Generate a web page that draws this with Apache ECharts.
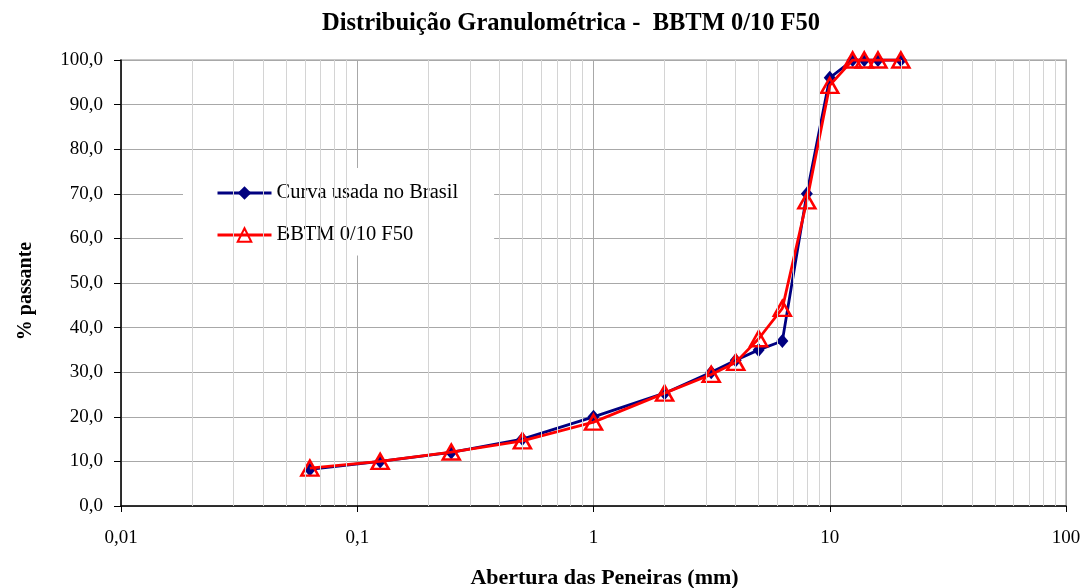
<!DOCTYPE html>
<html><head><meta charset="utf-8">
<script src="https://cdn.jsdelivr.net/npm/echarts@6/dist/echarts.min.js"></script>
<style>html,body{margin:0;padding:0;background:#fff}#c{width:1087px;height:588px}</style>
</head><body><div id="c"></div>
<script>
const sieves = [0.063, 0.125, 0.25, 0.5, 1, 2, 3.15, 4, 5, 6.3, 8, 10, 12.5, 14, 16, 20];
const curvaBrasil = [8.2, 10, 12, 15, 20, 25.3, 30, 32.7, 35, 37, 70, 96, 100, 100, 100, 100];
const bbtm = [8.5, 10, 12.1, 14.6, 18.8, 25.3, 29.5, 32.2, 37.5, 44.3, 68.4, 94.3, 100, 100, 100, 100];
const xTickLabels = ['0,01', '0,1', '1', '10', '100'];
const decades = [0.01, 0.1, 1, 10];
const minorMultipliers = [2, 3, 4, 5, 6, 7, 8, 9];

const FONT = "'Liberation Serif','Times New Roman',serif";
const minorLines = [];
decades.forEach(d => minorMultipliers.forEach(m => minorLines.push({xAxis: +(d * m).toPrecision(3)})));

const chart = echarts.init(document.getElementById('c'));
chart.setOption({
  animation: false,
  backgroundColor: '#fff',
  title: {
    text: 'Distribuição Granulométrica -  BBTM 0/10 F50',
    left: 566, top: 6, textAlign: 'center',
    textStyle: {fontFamily: FONT, fontSize: 24.5, fontWeight: 'bold', color: '#000'}
  },
  grid: {left: 121, right: 21, top: 60, bottom: 82, show: true, borderColor: '#c8c8c8', borderWidth: 2,
    backgroundColor: 'transparent', containLabel: false, outerBoundsMode: 'none'},
  legend: {
    orient: 'vertical', left: 183, top: 168,
    backgroundColor: '#fff',
    padding: [14.5, 36, 10, 33],
    itemWidth: 54, itemHeight: 17, itemGap: 21,
    lineStyle: {width: 3},
    textStyle: {fontFamily: FONT, fontSize: 20.5, color: '#000'},
    data: ['Curva usada no Brasil', 'BBTM 0/10 F50']
  },
  xAxis: {
    type: 'log', logBase: 10, min: 0.01, max: 100,
    name: 'Abertura das Peneiras (mm)', nameLocation: 'middle', nameGap: 61,
    nameTextStyle: {fontFamily: FONT, fontSize: 22, fontWeight: 'bold', color: '#000', padding: [0, 0, 0, 22]},
    axisLine: {show: true, onZero: false, lineStyle: {color: '#000', width: 1.5}},
    axisTick: {show: true, inside: false, length: 6, lineStyle: {color: '#000'}},
    axisLabel: {fontFamily: FONT, fontSize: 19, color: '#000', margin: 23,
      formatter: v => { const i = Math.round(Math.log10(v)) + 2; return xTickLabels[i] !== undefined ? xTickLabels[i] : ''; }},
    splitLine: {show: true, lineStyle: {color: '#a8a8a8', width: 1}},
    minorTick: {show: false}
  },
  yAxis: {
    type: 'value', min: 0, max: 100, interval: 10,
    name: '% passante', nameLocation: 'middle', nameGap: 85, nameRotate: 90,
    nameTextStyle: {fontFamily: FONT, fontSize: 20, fontWeight: 'bold', color: '#000', padding: [0, 16, 0, 0]},
    axisLine: {show: true, lineStyle: {color: '#000', width: 1.5}},
    axisTick: {show: true, inside: false, length: 7, lineStyle: {color: '#000'}},
    axisLabel: {fontFamily: FONT, fontSize: 19, color: '#000', margin: 18,
      formatter: v => v.toFixed(1).replace('.', ',')},
    splitLine: {show: true, lineStyle: {color: '#a8a8a8', width: 1}}
  },
  series: [
    {
      name: 'minor', type: 'line', data: [], silent: true, z: 1,
      markLine: {silent: true, symbol: ['none', 'none'], label: {show: false},
        lineStyle: {color: '#d4d4d4', width: 1, type: 'solid'}, emphasis: {disabled: true}, data: minorLines}
    },
    {
      name: 'Curva usada no Brasil', type: 'line', z: 3,
      data: sieves.map((s, i) => [s, curvaBrasil[i]]),
      symbol: 'diamond', symbolSize: [12, 14],
      lineStyle: {color: '#000080', width: 2.8},
      itemStyle: {color: '#000080'}
    },
    {
      name: 'BBTM 0/10 F50', type: 'line', z: 4,
      data: sieves.map((s, i) => [s, bbtm[i]]),
      symbol: 'triangle', symbolSize: [17, 15],
      lineStyle: {color: '#ff0000', width: 2.8},
      itemStyle: {color: 'rgba(255,255,255,0)', borderColor: '#ff0000', borderWidth: 2.5}
    }
  ]
});
</script></body></html>
